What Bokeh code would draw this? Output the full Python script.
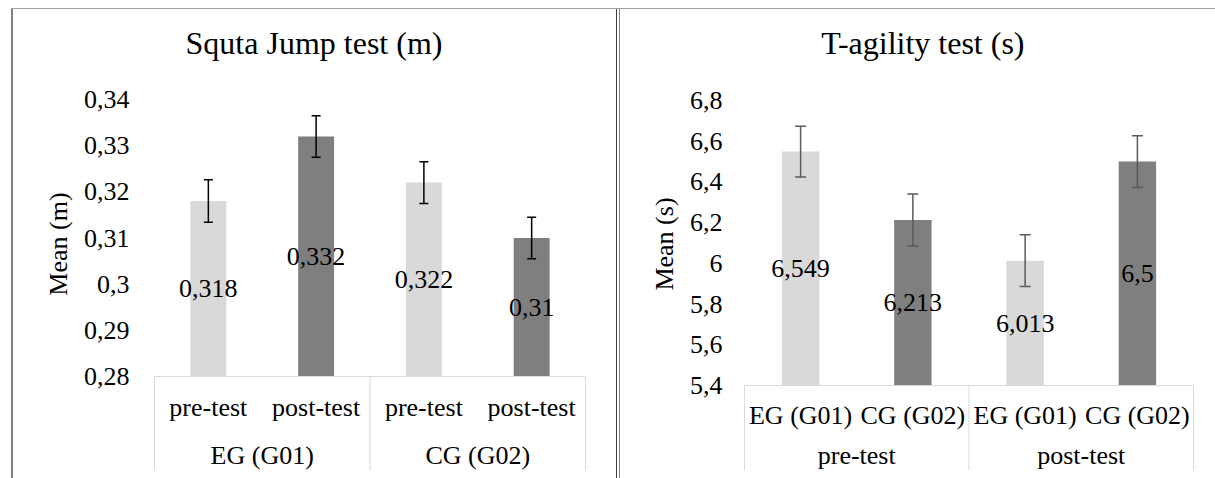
from bokeh.plotting import figure
from bokeh.models import (ColumnDataSource, FactorRange, Range1d, FixedTicker,
                          Whisker, TeeHead, Spacer)
from bokeh.layouts import row, column
from bokeh.core.properties import value
from bokeh.embed import file_html
from bokeh.resources import INLINE

# ---------------- data ----------------
sj_title = "Squta Jump test (m)"
sj_ylabel = "Mean (m)"
sj_groups = ["EG (G01)", "EG (G01)", "CG (G02)", "CG (G02)"]
sj_tests = ["pre-test", "post-test", "pre-test", "post-test"]
sj_means = [0.318, 0.332, 0.322, 0.310]
sj_errors = [0.0046, 0.0045, 0.0045, 0.0045]
sj_ticks = [0.28, 0.29, 0.30, 0.31, 0.32, 0.33, 0.34]
sj_tick_labels = ["0,28", "0,29", "0,3", "0,31", "0,32", "0,33", "0,34"]

ta_title = "T-agility test (s)"
ta_ylabel = "Mean (s)"
ta_tests = ["pre-test", "pre-test", "post-test", "post-test"]
ta_groups = ["EG (G01)", "CG (G02)", "EG (G01)", "CG (G02)"]
ta_means = [6.549, 6.213, 6.013, 6.5]
ta_errors = [0.125, 0.128, 0.127, 0.127]
ta_ticks = [5.4, 5.6, 5.8, 6.0, 6.2, 6.4, 6.6, 6.8]
ta_tick_labels = ["5,4", "5,6", "5,8", "6", "6,2", "6,4", "6,6", "6,8"]

# ---------------- style ----------------
FONT = "Liberation Serif"
LIGHT = "#D9D9D9"
DARK = "#7F7F7F"
BOX = "#D9D9D9"
FS = "26px"
TITLE_FS = "32px"

FIG_TOP = 9      # page y of figure top
FIG_H = 469      # figure height (page y 9..478)
BOX_BOTTOM = 470  # page y where the category box lines end


def make_chart(title, ylabel, outer, inner, means, errors, ticks, tick_labels,
               inner_colors, eb_color, cap, fig_left, fig_w, box_l, box_r,
               axis_px, top_px, title_cx, title_cy, row1_y, row2_y,
               tick_standoff, label_standoff):
    factors = list(zip(outer, inner))
    n = len(factors)
    pad_px = 2.0
    upx = n / (box_r - box_l)            # synthetic units per pixel
    frame_l = box_l - pad_px
    frame_r = box_r + pad_px
    x_range = FactorRange(*factors, factor_padding=0, group_padding=0,
                          range_padding=2 * pad_px * upx,
                          range_padding_units="absolute")

    ppu = (axis_px - top_px) / (ticks[-1] - ticks[0])

    def dy(page_y):
        return ticks[0] + (axis_px - page_y) / ppu

    y_range = Range1d(start=dy(FIG_TOP + FIG_H), end=dy(FIG_TOP))

    p = figure(width=fig_w, height=FIG_H, x_range=x_range, y_range=y_range,
               output_backend="svg", toolbar_location=None, title=None,
               x_axis_location=None,
               min_border_left=int(round(frame_l - fig_left)),
               min_border_right=int(round(fig_left + fig_w - frame_r)),
               min_border_top=0, min_border_bottom=0)
    p.outline_line_color = None
    p.grid.visible = False
    p.background_fill_color = "white"
    p.border_fill_color = "white"

    ax = p.yaxis[0]
    ax.ticker = FixedTicker(ticks=ticks)
    ax.major_label_overrides = {t: s for t, s in zip(ticks, tick_labels)}
    ax.axis_line_color = None
    ax.major_tick_line_color = None
    ax.minor_tick_line_color = None
    ax.major_tick_out = 0
    ax.major_tick_in = 0
    ax.major_label_standoff = tick_standoff
    ax.major_label_text_font = FONT
    ax.major_label_text_font_size = FS
    ax.major_label_text_color = "#000000"
    ax.axis_label = ylabel
    ax.axis_label_text_font = FONT
    ax.axis_label_text_font_size = FS
    ax.axis_label_text_font_style = "normal"
    ax.axis_label_text_color = "#000000"
    ax.axis_label_standoff = label_standoff

    base = ticks[0]
    src = ColumnDataSource(data=dict(
        x=factors,
        top=means,
        upper=[m + e for m, e in zip(means, errors)],
        lower=[m - e for m, e in zip(means, errors)],
        mid=[(base + m) / 2 for m in means],
        label=[("%g" % m).replace(".", ",") for m in means],
        color=[inner_colors[i] for i in inner],
    ))

    p.vbar(x="x", top="top", bottom=base, width=1 / 3, fill_color="color",
           line_color=None, source=src)

    # category box (Excel-style multi-level axis)
    groups = []
    for o in outer:
        if o not in groups:
            groups.append(o)
    per = n // len(groups)
    bounds = [k * per for k in range(len(groups) + 1)]
    p.segment(x0=[0], y0=[base], x1=[n], y1=[base], line_color=BOX, line_width=1)
    p.segment(x0=bounds, y0=[base] * len(bounds), x1=bounds,
              y1=[dy(BOX_BOTTOM)] * len(bounds), line_color=BOX, line_width=1)

    p.text(x=factors, y=[dy(row1_y)] * n, text=list(inner),
           text_font=value(FONT), text_font_size=value(FS), text_color="#000000",
           text_align="center", text_baseline="middle")
    p.text(x=groups, y=[dy(row2_y)] * len(groups), text=groups,
           text_font=value(FONT), text_font_size=value(FS), text_color="#000000",
           text_align="center", text_baseline="middle")

    wh = Whisker(source=src, base="x", upper="upper", lower="lower",
                 line_color=eb_color, line_width=1.5, level="overlay",
                 upper_head=TeeHead(size=cap, line_color=eb_color, line_width=1.5),
                 lower_head=TeeHead(size=cap, line_color=eb_color, line_width=1.5))
    p.add_layout(wh)

    p.text(x="x", y="mid", text="label", source=src,
           text_font=value(FONT), text_font_size=value(FS), text_color="#000000",
           text_align="center", text_baseline="middle")

    # chart title
    p.text(x=[(title_cx - box_l) * upx], y=[dy(title_cy)], text=[title],
           text_font=value(FONT), text_font_size=value(TITLE_FS),
           text_color="#000000", text_align="center", text_baseline="middle")
    return p


p1 = make_chart(sj_title, sj_ylabel, sj_groups, sj_tests, sj_means, sj_errors,
                sj_ticks, sj_tick_labels,
                {"pre-test": LIGHT, "post-test": DARK}, "#000000", 9,
                fig_left=13, fig_w=603, box_l=152, box_r=587,
                axis_px=376, top_px=99, title_cx=313, title_cy=42,
                row1_y=407, row2_y=455, tick_standoff=21, label_standoff=8)

p2 = make_chart(ta_title, ta_ylabel, ta_tests, ta_groups, ta_means, ta_errors,
                ta_ticks, ta_tick_labels,
                {"EG (G01)": LIGHT, "CG (G02)": DARK}, "#5A5A5A", 11,
                fig_left=620, fig_w=595, box_l=742, box_r=1195,
                axis_px=385, top_px=100, title_cx=922, title_cy=42,
                row1_y=415, row2_y=455, tick_standoff=18, label_standoff=8)


def line(w, h, color):
    return Spacer(width=w, height=h, styles={"background-color": color})


top_gap = Spacer(width=1215, height=8)
top = row(Spacer(width=11, height=1), line(1204, 1, "#A0A0A0"))
body = row(Spacer(width=11, height=FIG_H), line(2, FIG_H, "#808080"), p1,
           line(1, FIG_H, "#404040"), Spacer(width=2, height=FIG_H),
           line(1, FIG_H, "#808080"), p2)
layout = column(top_gap, top, body)

open("out.html", "w").write(file_html(layout, INLINE))
